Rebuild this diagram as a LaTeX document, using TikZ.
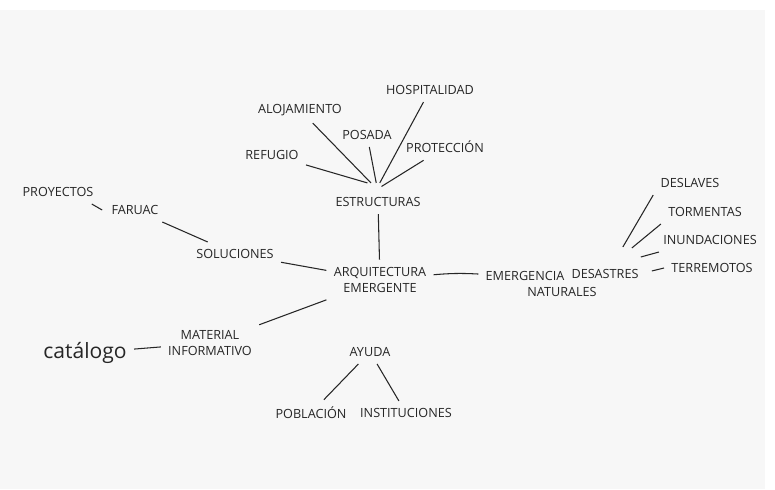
\documentclass[tikz,border=0pt]{standalone}
\usepackage{fontspec}
\setmainfont{Open Sans}
\begin{document}
\begin{tikzpicture}
      % Define styles for nodes
      \tikzstyle{word} = [inner sep=4pt, text=black!85, align=center,
      font=\fontsize{7.2}{9.5}\selectfont]
      \tikzstyle{link} = [line width=0.6pt, black!85]

      % Paper
      \useasboundingbox (0,0) rectangle (15.5,9.78);
      \fill[white!97!black] (0,0) rectangle (15.3,9.58);

      % Centre of the map
      \node[word] (arq) at (7.6,4.18) {ARQUITECTURA\\EMERGENTE};

      % Structures at top
      \node[word] (estr) at (7.56,5.74) {ESTRUCTURAS};
      \node[word] (refugio) at (5.44,6.68) {REFUGIO};
      \node[word] (aloj) at (6.0,7.58) {ALOJAMIENTO};
      \node[word] (posada) at (7.34,7.08) {POSADA};
      \node[word] (hosp) at (8.6,7.98) {HOSPITALIDAD};
      \node[word] (prot) at (8.9,6.84) {PROTECCIÓN};

      % Solutions on the left
      \node[word] (soluc) at (4.7,4.70) {SOLUCIONES};
      \node[word] (faruac) at (2.7,5.58) {FARUAC};
      \node[word] (proy) at (1.16,5.94) {PROYECTOS};

      % Emergency on the right
      \node[word] (emerg) at (10.5,4.26) {EMERGENCIA};
      \node[word] (desastres) at (12.1,4.30) {DESASTRES};
      \node[word] (naturales) at (11.24,3.94) {NATURALES};
      \node[word] (deslaves) at (13.8,6.12) {DESLAVES};
      \node[word] (tormentas) at (14.1,5.54) {TORMENTAS};
      \node[word] (inund) at (14.2,4.98) {INUNDACIONES};
      \node[word] (terrem) at (14.24,4.42) {TERREMOTOS};

      % Bottom
      \node[word] (material) at (4.2,2.92) {MATERIAL\\INFORMATIVO};
      \node[word, font=\large] (catalogo) at (1.7,2.72) {catálogo};
      \node[word] (ayuda) at (7.4,2.74) {AYUDA};
      \node[word] (poblacion) at (6.22,1.52) {POBLACIÓN};
      \node[word] (instit) at (8.12,1.52) {INSTITUCIONES};

      % Connections
      \draw[link] (refugio) -- ([xshift=-6pt,yshift=4pt]estr.north);
      \draw[link] (aloj) -- ([xshift=-4pt,yshift=4pt]estr.north);
      \draw[link] (posada) -- ([xshift=-1pt,yshift=4pt]estr.north);
      \draw[link] (hosp) -- ([xshift=1pt,yshift=4pt]estr.north);
      \draw[link] (prot) -- ([xshift=2pt,yshift=2pt]estr.north);
      \draw[link] (estr) -- (arq);

      \draw[link] ([xshift=-0.18cm]proy.south east) -- ([xshift=-0.04cm]faruac.west);
      \draw[link] (faruac) -- (soluc);
      \draw[link] (soluc) -- (arq);

      \draw[link] (arq) to[bend left=4] (emerg);
      \draw[link] ([shift={(-0.46,0.3)}]desastres.north east) -- (deslaves.south west);
      \draw[link] ([shift={(-0.28,0.28)}]desastres.north east) -- (tormentas.south west);
      \draw[link] ([shift={(-0.1,0.1)}]desastres.north east) -- ([xshift=0.06cm]inund.south west);
      \draw[link] ([shift={(0.12,-0.18)}]desastres.north east) -- (terrem.west);

      \draw[link] (catalogo) -- (material);
      \draw[link] (material) -- (arq);
      \draw[link] (ayuda) -- (poblacion);
      \draw[link] (ayuda) -- (instit);
    \end{tikzpicture}
\end{document}
